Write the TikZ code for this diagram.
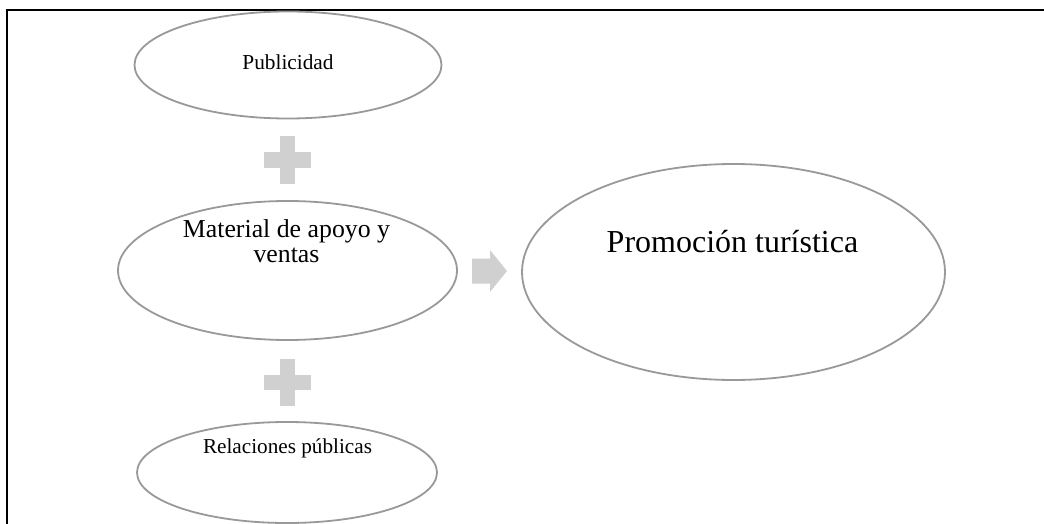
\documentclass[tikz,border=0pt]{standalone}
\usepackage{fontspec}
\setmainfont{Liberation Serif}
\usetikzlibrary{shapes.geometric}
\definecolor{ringgray}{HTML}{999999}
\definecolor{signgray}{HTML}{D0D0D0}
\tikzset{
  ring/.style={ellipse, draw=ringgray, line width=1.8pt, fill=white, inner sep=0pt},
  lbl/.style={inner sep=0pt, text=black},
  sign/.style={fill=signgray, draw=none},
}
\begin{document}
\begin{tikzpicture}[x=1pt,y=-1pt]
\useasboundingbox (0,0) rectangle (1044,524);
\fill[white] (0,0) rectangle (1044,524);
% frame
\draw[line width=2pt] (7,524) -- (7,10) -- (1044,10);
% ellipses
\node[ring, minimum width=307pt, minimum height=107pt] (pub) at (288,65) {};
\node[ring, minimum width=339pt, minimum height=139pt] (mat) at (287.5,270.5) {};
\node[ring, minimum width=300pt, minimum height=101pt] (rel) at (287,472.5) {};
\node[ring, minimum width=423pt, minimum height=216pt] (pro) at (733.5,272) {};
% texts
\node[lbl, anchor=base, font=\fontsize{21.3}{25}\selectfont] (tpub) at (288,70) {Publicidad};
\node[lbl, anchor=north, align=center, font=\fontsize{25.8}{25}\selectfont] (tmat) at (286.5,219) {Material de apoyo y\\ventas};
\node[lbl, anchor=base, font=\fontsize{21.2}{25}\selectfont] (trel) at (287.5,453) {Relaciones públicas};
\node[lbl, anchor=base, font=\fontsize{32}{36}\selectfont] (tpro) at (732.5,252) {Promoción turística};
% plus signs
\foreach \cx/\cy in {287.5/160, 287.5/382}{
  \fill[sign] (\cx-7.5,\cy-23.5) rectangle (\cx+7.5,\cy+23.5);
  \fill[sign] (\cx-23.5,\cy-7.5) rectangle (\cx+23.5,\cy+7.5);
}
% arrow
\fill[sign] (472,258.5) -- (490,258.5) -- (490,250) -- (507,271) -- (490,292) -- (490,283.5) -- (472,283.5) -- cycle;
\end{tikzpicture}
\end{document}
